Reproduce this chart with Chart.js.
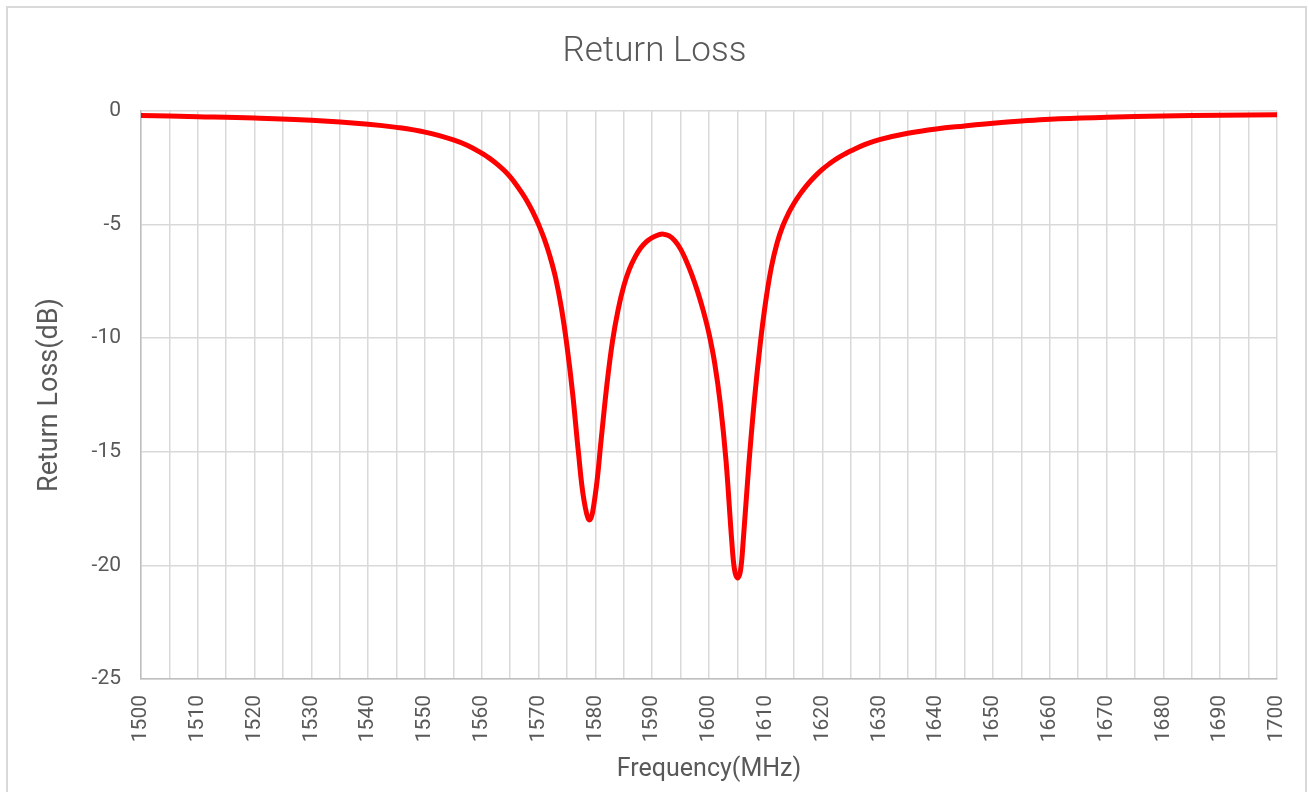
<!DOCTYPE html>
<html>
<head>
<meta charset="utf-8">
<script src="https://cdn.jsdelivr.net/npm/chart.js@4/dist/chart.umd.min.js"></script>
<style>
  html, body { margin: 0; padding: 0; background: #ffffff; overflow: hidden; }
  #wrap { position: relative; width: 1309px; height: 792px; }
  #frame { position: absolute; left: 6px; top: 6px; width: 1301px; height: 820px; border: 2px solid #d9d9d9; box-sizing: border-box; pointer-events: none; }
  canvas { position: absolute; left: 0; top: 0; }
</style>
</head>
<body>
<div id="wrap">
  <canvas id="c" width="1309" height="792"></canvas>
  <div id="frame"></div>
</div>
<script>
// ---- data ----
const chartTitle = 'Return Loss';
const xAxisTitle = 'Frequency(MHz)';
const yAxisTitle = 'Return Loss(dB)';
const seriesName = 'S11';

const freqMHz = [
  1500, 1510, 1520, 1530, 1540, 1545, 1550, 1555, 1557.5, 1560,
  1561, 1562, 1563, 1564, 1565, 1566, 1567, 1568, 1569, 1570,
  1571, 1572, 1573, 1574, 1575, 1576, 1577, 1578, 1579, 1580,
  1581, 1582, 1583, 1584, 1585, 1586, 1587, 1588, 1589, 1590,
  1591, 1592, 1593, 1594, 1595, 1596, 1597, 1598, 1599, 1600,
  1601, 1602, 1603, 1604, 1604.5, 1605, 1605.5, 1606, 1607, 1608,
  1609, 1610, 1611, 1612, 1613, 1614, 1615, 1616, 1617, 1618,
  1619, 1620, 1621, 1622, 1623, 1624, 1625, 1627.5, 1630, 1635,
  1640, 1645, 1650, 1655, 1660, 1670, 1680, 1690, 1700
];
const returnLossDb = [
  -0.20, -0.25, -0.31, -0.41, -0.58, -0.72, -0.93, -1.27, -1.52, -1.86,
  -2.02, -2.20, -2.40, -2.63, -2.90, -3.22, -3.58, -3.98, -4.45, -5.00,
  -5.63, -6.40, -7.35, -8.65, -10.35, -12.45, -15.00, -17.15, -18.00, -16.85,
  -14.50, -12.10, -10.15, -8.75, -7.70, -6.95, -6.42, -6.02, -5.75, -5.57,
  -5.46, -5.42, -5.50, -5.72, -6.08, -6.60, -7.22, -7.95, -8.80, -9.80,
  -11.10, -12.90, -15.40, -18.90, -20.20, -20.55, -20.30, -19.00, -15.60, -12.70,
  -10.30, -8.35, -6.85, -5.80, -5.05, -4.50, -4.05, -3.67, -3.34, -3.05,
  -2.79, -2.56, -2.36, -2.18, -2.02, -1.88, -1.75, -1.47, -1.26, -0.98,
  -0.79, -0.66, -0.54, -0.44, -0.36, -0.28, -0.22, -0.19, -0.17
];

const xGridValues = [1500, 1505, 1510, 1515, 1520, 1525, 1530, 1535, 1540, 1545, 1550, 1555, 1560, 1565, 1570, 1575, 1580, 1585, 1590, 1595, 1600, 1605, 1610, 1615, 1620, 1625, 1630, 1635, 1640, 1645, 1650, 1655, 1660, 1665, 1670, 1675, 1680, 1685, 1690, 1695, 1700];
const xTickLabels = ['1500', '1510', '1520', '1530', '1540', '1550', '1560', '1570', '1580', '1590', '1600', '1610', '1620', '1630', '1640', '1650', '1660', '1670', '1680', '1690', '1700'];
const yTickValues = [0, -5, -10, -15, -20, -25];

// ---- chart ----
const textColor = '#595959';
const fontFamily = 'Roboto, "Noto Sans", "Liberation Sans", sans-serif';

const points = freqMHz.map((f, i) => ({ x: f, y: returnLossDb[i] }));

new Chart(document.getElementById('c'), {
  type: 'scatter',
  data: {
    datasets: [{
      label: seriesName,
      data: points,
      showLine: true,
      borderColor: '#ff0000',
      backgroundColor: '#ff0000',
      borderWidth: 5,
      pointRadius: 0,
      pointHoverRadius: 0,
      tension: 0.4,
      borderCapStyle: 'round',
      borderJoinStyle: 'round'
    }]
  },
  options: {
    responsive: false,
    animation: false,
    layout: { padding: { left: 0, right: 0, top: 0, bottom: 0 } },
    plugins: {
      legend: { display: false },
      tooltip: { enabled: false },
      title: {
        display: true,
        text: chartTitle,
        color: textColor,
        font: { family: fontFamily, size: 35, weight: '300' },
        padding: { top: 31, bottom: 38 }
      }
    },
    scales: {
      x: {
        type: 'linear',
        min: xGridValues[0],
        max: xGridValues[xGridValues.length - 1],
        afterBuildTicks: (scale) => { scale.ticks = xGridValues.map(v => ({ value: v })); },
        afterFit: (scale) => { scale.height = 113; scale.paddingRight = 32; scale.paddingLeft = 10; },
        grid: { color: '#d9d9d9', lineWidth: 1.5, drawTicks: false },
        border: { color: '#bfbfbf', width: 1.5 },
        ticks: {
          autoSkip: false,
          minRotation: 90,
          maxRotation: 90,
          padding: 16,
          color: textColor,
          font: { family: fontFamily, size: 21 },
          callback: (v) => xTickLabels.includes(String(v)) ? String(v) : ''
        },
        title: {
          display: true,
          text: xAxisTitle,
          color: textColor,
          font: { family: fontFamily, size: 25 },
          padding: { top: 0, bottom: 7 }
        }
      },
      y: {
        type: 'linear',
        min: -25,
        max: 0,
        afterBuildTicks: (scale) => { scale.ticks = yTickValues.map(v => ({ value: v })); },
        afterFit: (scale) => { scale.width = 141; },
        grid: { color: '#d9d9d9', lineWidth: 1.5, drawTicks: false },
        border: { color: '#bfbfbf', width: 1.5 },
        ticks: {
          padding: 20,
          color: textColor,
          font: { family: fontFamily, size: 21 }
        },
        title: {
          display: true,
          text: yAxisTitle,
          color: textColor,
          font: { family: fontFamily, size: 27 },
          padding: { top: 34, bottom: 0 }
        }
      }
    }
  }
});
</script>
</body>
</html>
